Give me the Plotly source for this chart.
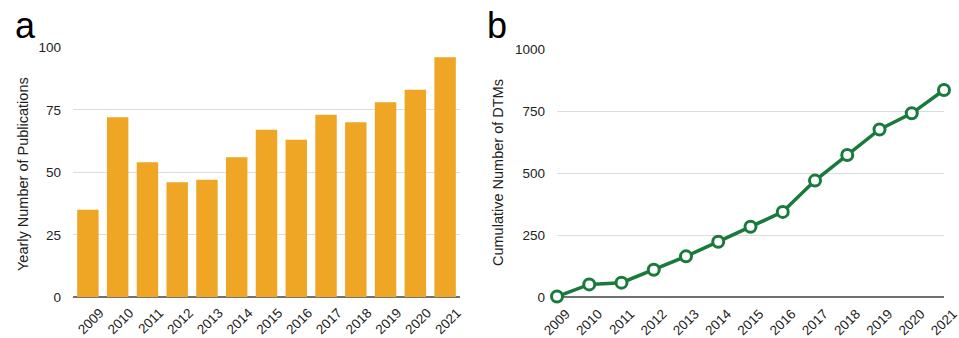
import plotly.graph_objects as go

years = ["2009", "2010", "2011", "2012", "2013", "2014", "2015",
         "2016", "2017", "2018", "2019", "2020", "2021"]
yearly_publications = [35, 72, 54, 46, 47, 56, 67, 63, 73, 70, 78, 83, 96]
cumulative_dtms = [3, 52, 59, 111, 165, 224, 284, 344, 470, 573, 676, 741, 835]

pub_ticks = [0, 25, 50, 75, 100]
dtm_ticks = [0, 250, 500, 750, 1000]

W, H = 959, 338
FONT = "Liberation Sans, Arial, Helvetica, sans-serif"
TEXT = "#222222"
BAR = "#EFA624"
GREEN = "#187A3B"

fig = go.Figure()

fig.add_trace(go.Bar(
    x=years, y=yearly_publications, marker=dict(color=BAR, line=dict(width=0)),
    xaxis="x", yaxis="y", showlegend=False,
))

fig.add_trace(go.Scatter(
    x=years, y=cumulative_dtms, mode="lines+markers",
    line=dict(color=GREEN, width=3.5),
    marker=dict(size=11, color="white", line=dict(color=GREEN, width=3)),
    cliponaxis=False, xaxis="x2", yaxis="y2", showlegend=False,
))

def px_x(v):
    return v / W

def px_y(v):
    return (H - v) / H

axis_font = dict(family=FONT, size=13.5, color=TEXT)

fig.update_layout(
    width=W, height=H,
    margin=dict(l=0, r=0, t=0, b=0, autoexpand=False),
    paper_bgcolor="white", plot_bgcolor="white",
    bargap=0.28,
    font=dict(family=FONT, color=TEXT),
    xaxis=dict(
        domain=[px_x(73), px_x(460)], anchor="y", automargin=False,
        type="category", tickangle=-45, tickfont=axis_font,
        ticklabelshift=12, ticklabelstandoff=4,
        showgrid=False, ticks="", showline=False, zeroline=False,
    ),
    yaxis=dict(
        domain=[px_y(297.3), px_y(47.3)], anchor="x", automargin=False,
        range=[0, 100], tickvals=pub_ticks, tickfont=axis_font,
        showgrid=True, gridcolor="#DCDCDC", gridwidth=1,
        zeroline=True, zerolinecolor="#707070", zerolinewidth=1.5,
        ticks="", ticklabelstandoff=11, showline=False,
    ),
    xaxis2=dict(
        domain=[px_x(557), px_x(944)], anchor="y2", automargin=False,
        type="category", range=[0, 12], tickangle=-45, tickfont=axis_font,
        ticklabelshift=9, ticklabelstandoff=5,
        showgrid=False, ticks="", showline=False, zeroline=False,
    ),
    yaxis2=dict(
        domain=[px_y(297.3), px_y(49)], anchor="x2", automargin=False,
        range=[0, 1000], tickvals=dtm_ticks, tickfont=axis_font,
        showgrid=True, gridcolor="#DCDCDC", gridwidth=1,
        zeroline=True, zerolinecolor="#707070", zerolinewidth=1.5,
        ticks="", ticklabelstandoff=11, showline=False,
    ),
    annotations=[
        dict(text="a", x=px_x(13), y=px_y(3), xref="paper", yref="paper",
             xanchor="left", yanchor="top", showarrow=False,
             font=dict(family=FONT, size=36, color="black")),
        dict(text="b", x=px_x(485), y=px_y(3), xref="paper", yref="paper",
             xanchor="left", yanchor="top", showarrow=False,
             font=dict(family=FONT, size=36, color="black")),
        dict(text="Yearly Number of Publications", textangle=-90,
             x=px_x(23), y=px_y(174), xref="paper", yref="paper",
             xanchor="center", yanchor="middle", showarrow=False,
             font=dict(family=FONT, size=14.5, color=TEXT)),
        dict(text="Cumulative Number of DTMs", textangle=-90,
             x=px_x(498), y=px_y(173), xref="paper", yref="paper",
             xanchor="center", yanchor="middle", showarrow=False,
             font=dict(family=FONT, size=14.5, color=TEXT)),
    ],
)

fig.write_html("out.html")
